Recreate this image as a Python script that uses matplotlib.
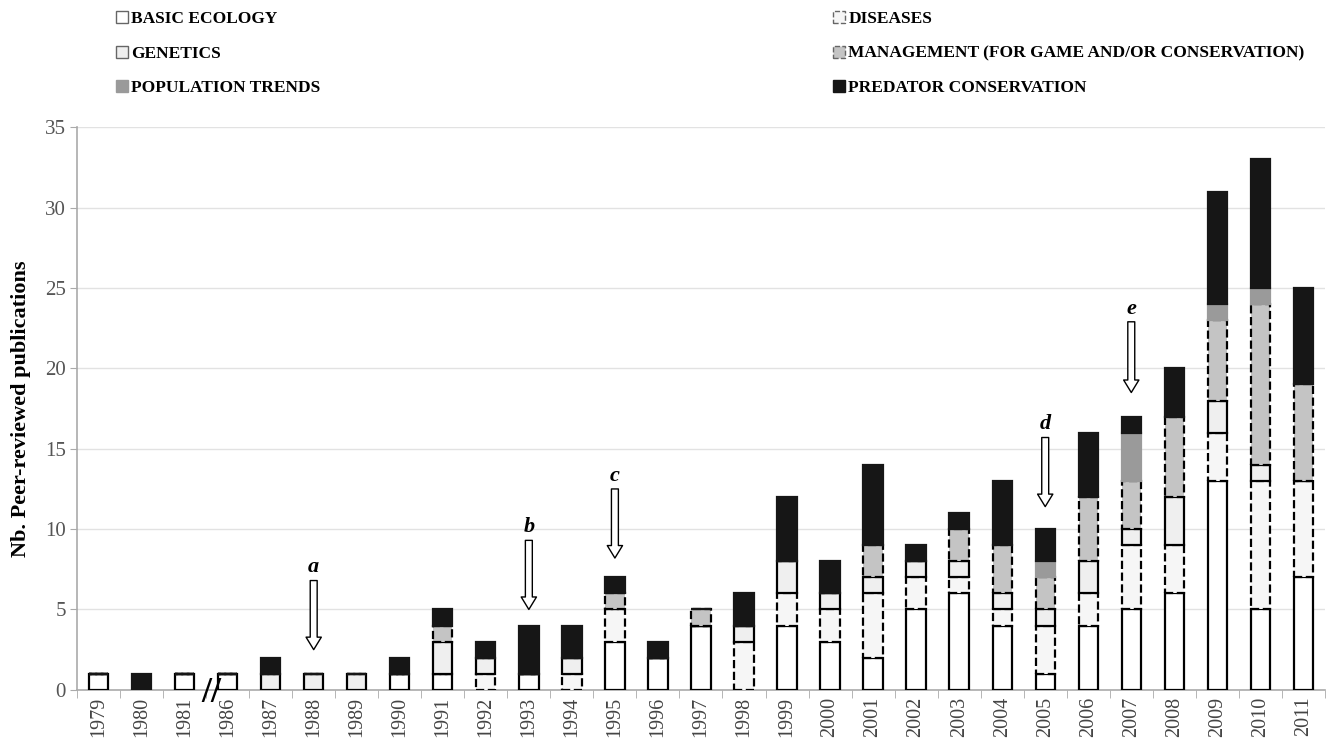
import matplotlib
matplotlib.use("Agg")
import matplotlib.pyplot as plt
import numpy as np
from matplotlib.patches import Patch

plt.rcParams['font.family'] = ['Liberation Serif', 'DejaVu Serif']

years = ['1979', '1980', '1981', '1986', '1987', '1988', '1989', '1990',
         '1991', '1992', '1993', '1994', '1995', '1996', '1997', '1998',
         '1999', '2000', '2001', '2002', '2003', '2004', '2005', '2006',
         '2007', '2008', '2009', '2010', '2011']

basic_ecology = [1, 0, 1, 1, 0, 0, 0, 1, 1, 0, 1, 0, 3, 2, 4, 0,
                 4, 3, 2, 5, 6, 4, 1, 4, 5, 6, 13, 5, 7]
diseases = [0, 0, 0, 0, 0, 0, 0, 0, 0, 1, 0, 1, 2, 0, 0, 3,
            2, 2, 4, 2, 1, 1, 3, 2, 4, 3, 3, 8, 6]
genetics = [0, 0, 0, 0, 1, 1, 1, 0, 2, 1, 0, 1, 0, 0, 0, 1,
            2, 1, 1, 1, 1, 1, 1, 2, 1, 3, 2, 1, 0]
management = [0, 0, 0, 0, 0, 0, 0, 0, 1, 0, 0, 0, 1, 0, 1, 0,
              0, 0, 2, 0, 2, 3, 2, 4, 3, 5, 5, 10, 6]
population_trends = [0, 0, 0, 0, 0, 0, 0, 0, 0, 0, 0, 0, 0, 0, 0, 0,
                     0, 0, 0, 0, 0, 0, 1, 0, 3, 0, 1, 1, 0]
predator_conservation = [0, 1, 0, 0, 1, 0, 0, 1, 1, 1, 3, 2, 1, 1, 0, 2,
                         4, 2, 5, 1, 1, 4, 2, 4, 1, 3, 7, 8, 6]

# arrows marking events: year, tip and tail height
arrow_years = ['1988', '1993', '1995', '2005', '2007']
arrow_labels = ['a', 'b', 'c', 'd', 'e']
arrow_tips = [2.5, 5.0, 8.2, 11.4, 18.5]
arrow_tops = [6.8, 9.3, 12.5, 15.7, 22.9]

series = [
    ("BASIC ECOLOGY", basic_ecology, 'white', 'black', '-'),
    ("DISEASES", diseases, '#f6f6f6', 'black', '--'),
    ("GENETICS", genetics, '#efefef', 'black', '-'),
    ("MANAGEMENT (FOR GAME AND/OR CONSERVATION)", management, '#c4c4c4', 'black', '--'),
    ("POPULATION TRENDS", population_trends, '#9a9a9a', '#9a9a9a', '-'),
    ("PREDATOR CONSERVATION", predator_conservation, '#161616', '#161616', '-'),
]

fig = plt.figure(figsize=(13.28, 7.49), dpi=100)
ax = fig.add_axes([0.058, 0.079, 0.94, 0.751])

x = np.arange(len(years))
bottom = np.zeros(len(years))
handles = {}
for name, vals, fc, ec, ls in series:
    vals = np.array(vals, dtype=float)
    ax.bar(x, vals, 0.45, bottom=bottom, color=fc, edgecolor=ec,
           linestyle=ls, linewidth=1.6, zorder=3)
    bottom += vals
    handles[name] = Patch(facecolor=fc, edgecolor='#666666' if ec == 'black' else ec,
                          linestyle=ls, linewidth=1.0)

ax.set_ylim(0, 35)
ax.set_xlim(-0.46, len(years) - 0.49)
ax.set_yticks(range(0, 36, 5))
ax.set_xticks(x)
ax.set_xticklabels(years, rotation=90, fontsize=14.5, color='#444444')
ax.tick_params(axis='x', length=0, pad=5)
ax.set_xticks(np.arange(len(years) + 1) - 0.5, minor=True)
ax.tick_params(axis='x', which='minor', length=6, color='#aaaaaa')
ax.tick_params(axis='y', labelsize=15, labelcolor='#555555', length=5,
               color='#aaaaaa', pad=3)
ax.grid(axis='y', color='#e2e2e2', linewidth=1.0, zorder=0)
for s in ['top', 'right']:
    ax.spines[s].set_visible(False)
for s in ['left', 'bottom']:
    ax.spines[s].set_color('#aaaaaa')
    ax.spines[s].set_linewidth(1.2)

ax.set_ylabel("Nb. Peer-reviewed publications", fontsize=16,
              fontweight='bold', labelpad=10)

# axis break marker between 1981 and 1986
ax.text(2.62, -0.2, "//", fontsize=26, fontweight='bold', ha='center',
        va='center', clip_on=False, zorder=5)

for lab, yr, tip, top in zip(arrow_labels, arrow_years, arrow_tips, arrow_tops):
    xi = years.index(yr)
    ax.annotate('', xy=(xi, tip), xytext=(xi, top),
                arrowprops=dict(arrowstyle='simple,head_width=0.55,head_length=0.45,tail_width=0.25',
                                mutation_scale=20, fc='white', ec='black', lw=1.0,
                                shrinkA=0, shrinkB=0), zorder=6)
    ax.text(xi, top + 0.2, lab, fontsize=16, fontweight='bold', style='italic',
            ha='center', va='bottom', zorder=6)

left_names = ["BASIC ECOLOGY", "GENETICS", "POPULATION TRENDS"]
right_names = ["DISEASES", "MANAGEMENT (FOR GAME AND/OR CONSERVATION)",
               "PREDATOR CONSERVATION"]
leg_kw = dict(frameon=False, prop={'family': 'Liberation Serif', 'weight': 'bold', 'size': 12.5},
              handlelength=0.7, handleheight=0.7, handletextpad=0.2,
              labelspacing=1.05, borderaxespad=0, borderpad=0)
fig.legend([handles[n] for n in left_names], left_names,
           loc='upper left', bbox_to_anchor=(0.087, 0.985), **leg_kw)
fig.legend([handles[n] for n in right_names], right_names,
           loc='upper left', bbox_to_anchor=(0.627, 0.985), **leg_kw)

fig.savefig("out.png", dpi=100)
